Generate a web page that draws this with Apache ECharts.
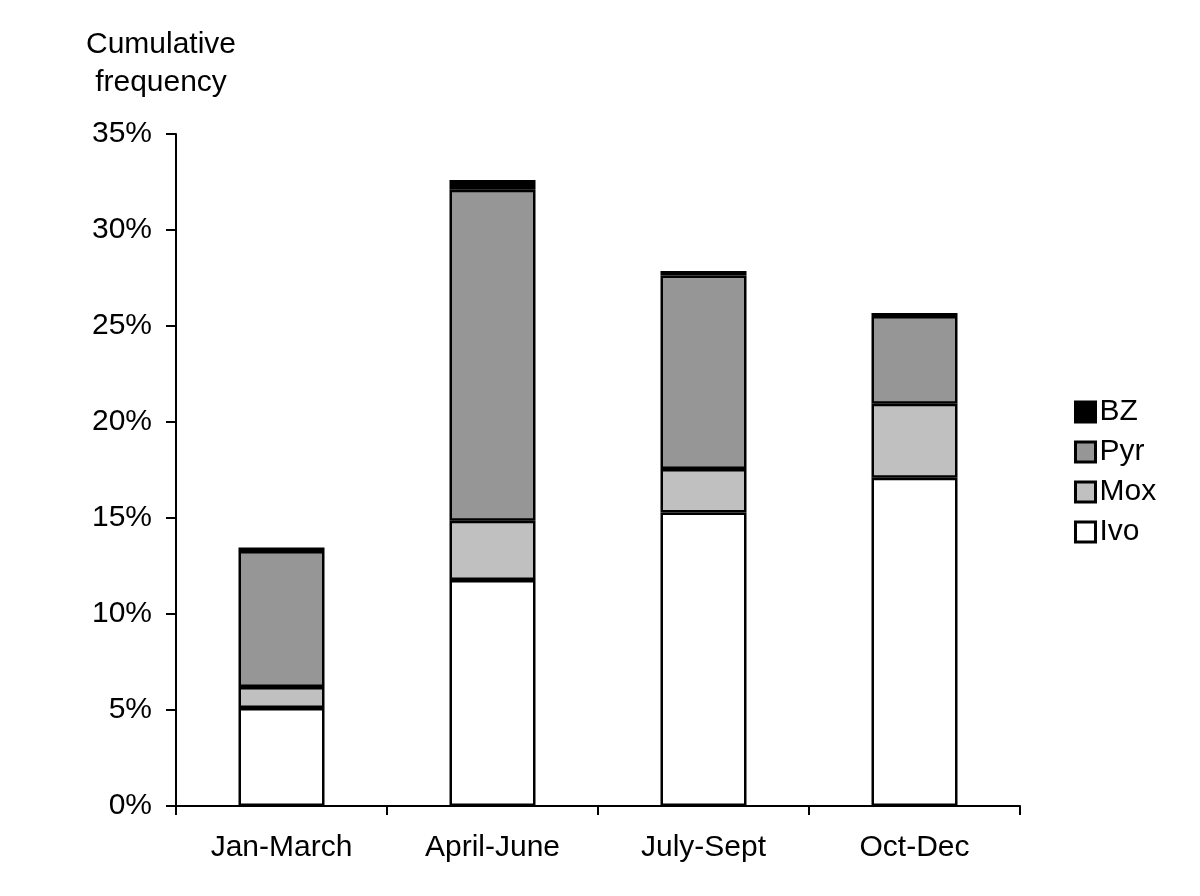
<!DOCTYPE html>
<html><head><meta charset="utf-8">
<script src="https://cdn.jsdelivr.net/npm/echarts@6/dist/echarts.min.js"></script>
<style>html,body{margin:0;padding:0;background:#fff}#c{width:1200px;height:896px}</style>
</head><body><div id="c"></div>
<script>
const categories = ['Jan-March', 'April-June', 'July-Sept', 'Oct-Dec'];
const ivo = [5.10, 11.77, 15.28, 17.10];
const mox = [1.10, 3.09, 2.27, 3.85];
const pyr = [7.08, 17.24, 10.08, 4.57];
const bz  = [0.18, 0.50, 0.23, 0.16];
const legendOrder = ['BZ', 'Pyr', 'Mox', 'Ivo'];
const yTicks = { min: 0, max: 35, interval: 5 };

const font = 'Liberation Sans, Arial, sans-serif';
const chart = echarts.init(document.getElementById('c'));
function s(name, data, color) {
  return { name, type: 'bar', stack: 'all', data, barWidth: 86,
    itemStyle: { color, borderColor: '#000', borderWidth: 2.5 } };
}
chart.setOption({
  animation: false,
  textStyle: { fontFamily: font },
  grid: { left: 176, right: 180, top: 134, bottom: 90 },
  legend: {
    orient: 'vertical', left: 1069, top: 392, data: legendOrder,
    itemWidth: 20, itemHeight: 20, itemGap: 10, icon: 'rect',
    itemStyle: { borderWidth: 3 },
    textStyle: { fontSize: 30, color: '#000', fontFamily: font, padding: [0, 0, 0, -1] }
  },
  xAxis: {
    type: 'category', data: categories,
    axisLine: { lineStyle: { color: '#000', width: 2 } },
    axisTick: { show: true, length: 9, lineStyle: { color: '#000', width: 2 } },
    axisLabel: { color: '#000', fontSize: 30, margin: 27, fontFamily: font }
  },
  yAxis: {
    type: 'value', min: yTicks.min, max: yTicks.max, interval: yTicks.interval,
    name: 'Cumulative\nfrequency', nameLocation: 'end', nameGap: 32,
    nameTextStyle: { color: '#000', fontSize: 30, align: 'center', lineHeight: 38, padding: [0, 30, 0, 0], fontFamily: font },
    splitLine: { show: false },
    axisLine: { show: true, lineStyle: { color: '#000', width: 2 } },
    axisTick: { show: true, length: 10, lineStyle: { color: '#000', width: 2 } },
    axisLabel: { color: '#000', fontSize: 30, margin: 24, formatter: '{value}%', fontFamily: font }
  },
  series: [
    s('Ivo', ivo, '#ffffff'),
    s('Mox', mox, '#c0c0c0'),
    s('Pyr', pyr, '#969696'),
    s('BZ', bz, '#000000')
  ]
});
</script></body></html>
